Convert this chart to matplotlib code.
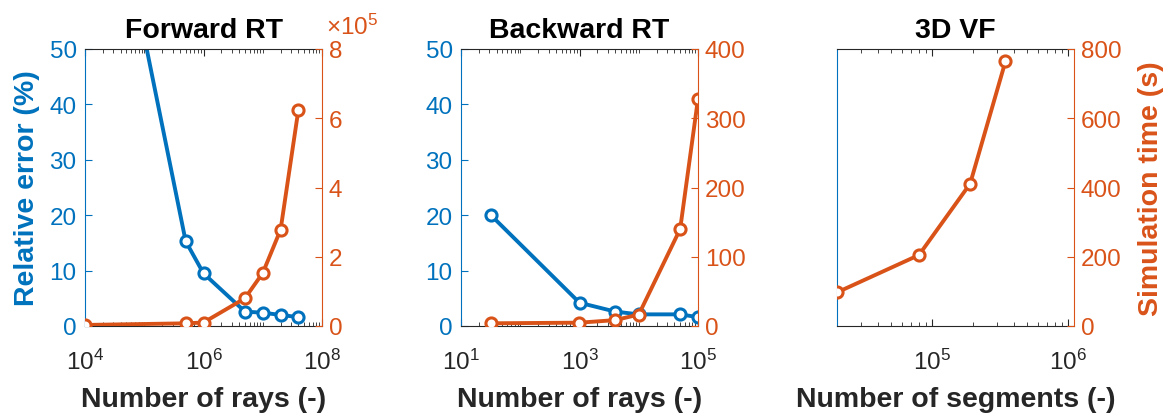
import matplotlib.pyplot as plt
from matplotlib.ticker import FixedLocator, LogLocator, NullFormatter

plt.rcParams['font.family'] = ['Liberation Sans', 'DejaVu Sans']
plt.rcParams['mathtext.fontset'] = 'custom'
plt.rcParams['mathtext.rm'] = 'Liberation Sans'
plt.rcParams['mathtext.it'] = 'Liberation Sans'

BLUE = '#0072BD'
ORANGE = '#D95319'
DARK = '#262626'

# Forward ray tracing
fwd_rays = [1e4, 5e5, 1e6, 5e6, 1e7, 2e7, 4e7]
fwd_err = [105, 15.3, 9.5, 2.6, 2.4, 2.0, 1.6]
fwd_time = [3e3, 7.7e3, 1.0e4, 8.0e4, 1.53e5, 2.78e5, 6.25e5]

# Backward ray tracing
bwd_rays = [32, 1e3, 4e3, 1e4, 5e4, 1e5]
bwd_err = [20.0, 4.2, 2.6, 2.1, 2.1, 1.6]
bwd_time = [3.9, 4.8, 8.5, 16.5, 140, 328]

# 3D view factor
vf_segs = [2e4, 8e4, 1.9e5, 3.45e5]
vf_time = [97, 205, 411, 764]

titles = ['Forward RT', 'Backward RT', '3D VF']
xlabels = ['Number of rays (-)', 'Number of rays (-)', 'Number of segments (-)']

TICK_FS = 17.5
LABEL_FS = 20.5

fig = plt.figure(figsize=(11.76, 4.14), dpi=100)
lefts = [85 / 1176, 461 / 1176, 837 / 1176]
w = 237 / 1176
b = 1 - 327 / 414
h = 277 / 414

line_kw = dict(lw=2.8, marker='o', ms=8, mew=2.2, mfc='white')


def style_axes(ax, ax2):
    ax.tick_params(axis='both', which='both', direction='in', labelsize=TICK_FS)
    ax.tick_params(axis='x', which='major', length=5, colors=DARK, top=True, pad=16)
    ax.tick_params(axis='x', which='minor', length=3, colors=DARK, top=True)
    ax.tick_params(axis='y', which='major', length=5, colors=BLUE, pad=6)
    ax.spines['left'].set_color(BLUE)
    ax.spines['top'].set_color(DARK)
    ax.spines['bottom'].set_color(DARK)
    ax.spines['right'].set_visible(False)
    ax2.tick_params(axis='y', direction='in', length=5, colors=ORANGE,
                    labelsize=TICK_FS, pad=5)
    ax2.spines['right'].set_color(ORANGE)
    for s in ['left', 'top', 'bottom']:
        ax2.spines[s].set_visible(False)


axes = []
for i in range(3):
    ax = fig.add_axes([lefts[i], b, w, h])
    ax.set_xscale('log')
    ax2 = ax.twinx()
    style_axes(ax, ax2)
    ax.set_title(titles[i], fontsize=LABEL_FS, fontweight='bold', pad=9)
    ax.set_xlabel(xlabels[i], fontsize=LABEL_FS, fontweight='bold', color=DARK, labelpad=9)
    ax.xaxis.set_minor_locator(LogLocator(base=10, subs='all', numticks=50))
    ax.xaxis.set_minor_formatter(NullFormatter())
    axes.append((ax, ax2))

# Panel 1
ax, ax2 = axes[0]
ax.plot(fwd_rays, fwd_err, color=BLUE, **line_kw)
ax2.plot(fwd_rays, fwd_time, color=ORANGE, **line_kw)
ax.set_xlim(1e4, 1e8)
ax.xaxis.set_major_locator(FixedLocator([1e4, 1e6, 1e8]))
ax.set_ylim(0, 50)
ax.set_yticks([0, 10, 20, 30, 40, 50])
ax2.set_ylim(0, 8e5)
ax2.set_yticks([0, 2e5, 4e5, 6e5, 8e5])
ax2.set_yticklabels(['0', '2', '4', '6', '8'])
ax.set_ylabel('Relative error (%)', fontsize=LABEL_FS, fontweight='bold', color=BLUE)
ax.yaxis.set_label_coords(-0.19, 0.5)
ax2.text(1.017, 1.055, r'$\times10^5$', transform=ax2.transAxes, color=ORANGE,
         fontsize=TICK_FS, ha='left', va='baseline')

# Panel 2
ax, ax2 = axes[1]
ax.plot(bwd_rays, bwd_err, color=BLUE, **line_kw)
ax2.plot(bwd_rays, bwd_time, color=ORANGE, **line_kw)
ax.set_xlim(1e1, 1e5)
ax.xaxis.set_major_locator(FixedLocator([1e1, 1e3, 1e5]))
ax.set_ylim(0, 50)
ax.set_yticks([0, 10, 20, 30, 40, 50])
ax2.set_ylim(0, 400)
ax2.set_yticks([0, 100, 200, 300, 400])

# Panel 3
ax, ax2 = axes[2]
ax2.plot(vf_segs, vf_time, color=ORANGE, **line_kw)
ax.set_xlim(2e4, 1.1e6)
ax.xaxis.set_major_locator(FixedLocator([1e5, 1e6]))
ax.set_yticks([])
ax2.set_ylim(0, 800)
ax2.set_yticks([0, 200, 400, 600, 800])
ax2.set_ylabel('Simulation time (s)', fontsize=LABEL_FS, fontweight='bold', color=ORANGE)
ax2.yaxis.set_label_coords(1.27, 0.5)

fig.savefig('out.png', dpi=100)
